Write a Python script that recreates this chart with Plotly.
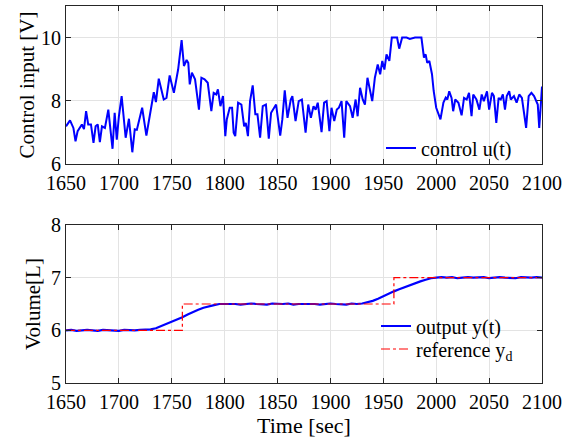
import plotly.graph_objects as go

# ---- Control input u(t) ----
u_time = [1650, 1653.8, 1657, 1659, 1661, 1665, 1667, 1669, 1671, 1673.6, 1676, 1678, 1680, 1682, 1684,
          1686.8, 1690, 1694, 1696, 1698, 1700, 1702.6, 1706.4, 1709.5, 1712.7, 1715, 1717, 1719.8, 1722,
          1726, 1730.5, 1733, 1735, 1737.7, 1742.4, 1745, 1748, 1752, 1756, 1759.3, 1761.5, 1764, 1765.6,
          1767, 1769, 1772, 1775.7, 1778, 1781, 1784, 1787.4, 1789.6, 1792, 1793.6, 1796, 1798.4, 1800.6,
          1802, 1804.8, 1807, 1808.5, 1810, 1812.7, 1815.8, 1818.4, 1820, 1822, 1824, 1826.5, 1829, 1831,
          1833.5, 1836, 1839, 1841.7, 1843.9, 1848.6, 1850.5, 1852.5, 1854.5, 1856.8, 1859.4, 1862.5, 1864,
          1867, 1870, 1873, 1876.5, 1879, 1881.5, 1884, 1886, 1888, 1891.6, 1894, 1896.4, 1899, 1901,
          1903.6, 1906, 1908, 1910.5, 1913, 1915, 1918.5, 1921, 1923.8, 1925.7, 1928, 1930.5, 1932.6, 1935,
          1937.5, 1939.5, 1942, 1944.7, 1947, 1949, 1951, 1953, 1955.7, 1958, 1961, 1963, 1965, 1967.8,
          1972, 1975, 1980, 1984.6, 1986, 1988.4, 1990, 1991.5, 1993.5, 1996, 1997.6, 2000, 2004, 2006.8,
          2009, 2010.5, 2012.3, 2014.5, 2016, 2018, 2021, 2024, 2026.3, 2028.8, 2031, 2033.4, 2035, 2038,
          2040.8, 2043, 2045, 2048, 2050, 2052.7, 2054.5, 2056.8, 2059, 2061, 2063, 2065, 2066.7, 2069,
          2070.5, 2073.5, 2076, 2078.5, 2081, 2085, 2087.4, 2090, 2092.5, 2096, 2097.4, 2099.2, 2100]
u_value = [7.19, 7.38, 7.14, 6.72, 7.04, 7.25, 7.10, 7.67, 7.25, 7.25, 6.67, 7.19, 7.25, 6.69, 7.19,
           7.14, 7.72, 6.48, 7.62, 6.77, 7.51, 8.15, 6.83, 7.43, 6.37, 7.10, 7.08, 7.49, 7.78,
           6.90, 7.72, 8.27, 7.96, 8.70, 8.04, 8.09, 8.80, 8.25, 8.99, 9.92, 9.10, 9.29, 9.20,
           8.52, 8.89, 8.68, 7.72, 8.73, 8.68, 8.57, 7.67, 8.25, 8.20, 8.36, 7.83, 8.15, 6.88,
           7.41, 7.78, 7.78, 6.99, 6.88, 7.94, 7.88, 7.19, 7.30, 6.88, 7.99, 8.49, 7.57, 7.57,
           6.83, 7.83, 7.88, 6.80, 7.62, 7.88, 7.41, 6.90, 7.41, 8.33, 7.46, 8.04, 8.15,
           7.36, 7.99, 8.04, 6.99, 7.88, 7.46, 7.83, 7.72, 7.94, 7.01, 7.94, 7.99, 7.04, 7.78,
           7.36, 7.72, 7.78, 7.99, 6.83, 7.99, 7.83, 7.46, 8.04, 7.51, 8.41, 8.04, 7.88, 8.73,
           8.30, 7.99, 8.73, 9.15, 8.84, 9.26, 8.99, 9.47, 9.26, 10.0, 10.0, 10.0, 9.65, 10.0,
           10.0, 9.96, 10.0, 10.0, 10.0, 9.37, 9.47, 9.20, 9.26, 8.84, 8.31, 7.78, 7.41, 7.94,
           8.10, 8.04, 8.30, 8.09, 7.67, 8.04, 7.94, 7.54, 8.09, 8.04, 8.25, 7.51, 8.20, 8.04,
           7.72, 8.20, 7.99, 8.30, 7.72, 8.25, 8.15, 7.30, 8.09, 8.04, 8.20, 7.72, 8.15, 8.30,
           8.04, 8.15, 7.94, 8.20, 8.09, 7.14, 8.15, 8.25, 8.15, 7.88, 7.14, 8.04, 8.45]

# ---- Output y(t) ----
y_time = list(range(1650, 2101, 5))
y_value = [6.00, 6.01, 5.99, 6.00, 6.01, 6.00, 5.99, 6.01, 6.00, 6.00, 5.99, 6.01, 6.00, 6.00, 6.01, 6.01,
           6.02, 6.04, 6.08, 6.12, 6.17, 6.21, 6.25, 6.30, 6.35, 6.39, 6.43, 6.46, 6.48, 6.50, 6.50,
           6.51, 6.50, 6.49, 6.50, 6.51, 6.50, 6.50, 6.49, 6.51, 6.50, 6.50, 6.51, 6.49, 6.50, 6.50,
           6.51, 6.50, 6.49, 6.50, 6.51, 6.50, 6.50, 6.49, 6.51, 6.50,
           6.51, 6.53, 6.56, 6.60, 6.65, 6.69, 6.74, 6.78, 6.82, 6.86, 6.89, 6.93, 6.96, 6.99, 7.00,
           7.01, 7.00, 7.01, 6.99, 7.00, 7.01, 7.00, 7.00, 7.01, 6.99, 7.00, 7.01, 7.00, 7.00, 6.99,
           7.01, 7.00, 7.00, 7.01, 7.00]

# ---- Reference y_d ----
ref_time = [1650, 1760, 1760, 1960, 1960, 2100]
ref_value = [6.0, 6.0, 6.5, 6.5, 7.0, 7.0]

x_ticks = [1650, 1700, 1750, 1800, 1850, 1900, 1950, 2000, 2050, 2100]
top_y_ticks = [6, 8, 10]
bot_y_ticks = [5, 6, 7, 8]

FONT = "Liberation Serif, Times New Roman, serif"
AX = "#262626"
GRID = "#e3e3e3"

fig = go.Figure()
fig.add_trace(go.Scatter(x=u_time, y=u_value, mode="lines", name="control u(t)",
                         line=dict(color="#0000ff", width=2), xaxis="x", yaxis="y", legend="legend"))
fig.add_trace(go.Scatter(x=y_time, y=y_value, mode="lines", name="output y(t)",
                         line=dict(color="#0000ff", width=2.2), xaxis="x2", yaxis="y2", legend="legend2"))
fig.add_trace(go.Scatter(x=ref_time, y=ref_value, mode="lines", name="reference y<sub>d</sub>",
                         line=dict(color="#ff0000", width=1.2, dash="dashdot"), xaxis="x2", yaxis="y2",
                         legend="legend3"))

axis_common = dict(showline=True, linecolor=AX, linewidth=1, mirror="ticks", ticks="inside",
                   ticklen=5, tickcolor=AX, showgrid=True, gridcolor=GRID, gridwidth=1,
                   zeroline=False, automargin=False,
                   tickfont=dict(family=FONT, size=20, color="#000"))

top_dom = [0.581, 1.0]
bot_dom = [0.0, 0.419]

def px_x(p):
    return (p - 66) / 476

def px_y(p):
    return (383 - p) / 377

def leg(xp, yp):
    return dict(x=px_x(xp), y=px_y(yp), xanchor="left", yanchor="middle",
                bgcolor="rgba(0,0,0,0)", borderwidth=0, font=dict(family=FONT, size=20),
                tracegroupgap=0, itemwidth=30)

# white legend backgrounds (hide gridlines behind legend text)
legend_boxes = [(385, 131, 540, 163), (378, 313, 540, 371)]
shapes = [dict(type="rect", xref="paper", yref="paper", x0=px_x(a), x1=px_x(c),
               y0=px_y(d), y1=px_y(b), fillcolor="white", line=dict(width=0), layer="between")
          for (a, b, c, d) in legend_boxes]

fig.update_layout(
    width=570, height=439,
    margin=dict(l=66, r=28, t=6, b=56, autoexpand=False),
    paper_bgcolor="white", plot_bgcolor="white",
    font=dict(family=FONT, size=20, color="#000"),
    xaxis=dict(domain=[0, 1], anchor="y", range=[1650, 2100], tickvals=x_ticks,
               ticklabelstandoff=1, **axis_common),
    yaxis=dict(domain=top_dom, anchor="x", range=[6, 11], tickvals=top_y_ticks,
               title=dict(text="Control input [V]", standoff=0, font=dict(family=FONT, size=21)),
               **axis_common),
    xaxis2=dict(domain=[0, 1], anchor="y2", range=[1650, 2100], tickvals=x_ticks,
                ticklabelstandoff=1,
                title=dict(text="Time [sec]", standoff=3, font=dict(family=FONT, size=22)),
                **axis_common),
    yaxis2=dict(domain=bot_dom, anchor="x2", range=[5, 8], tickvals=bot_y_ticks,
                title=dict(text="Volume[L]", standoff=4, font=dict(family=FONT, size=21)),
                **axis_common),
    legend=leg(381, 148),
    legend2=leg(376, 326),
    legend3=leg(376, 349),
    shapes=shapes,
    showlegend=True,
)

fig.write_html("out.html", config={"displayModeBar": False},
               post_script="document.body.style.margin='0';document.body.style.overflow='hidden';")
